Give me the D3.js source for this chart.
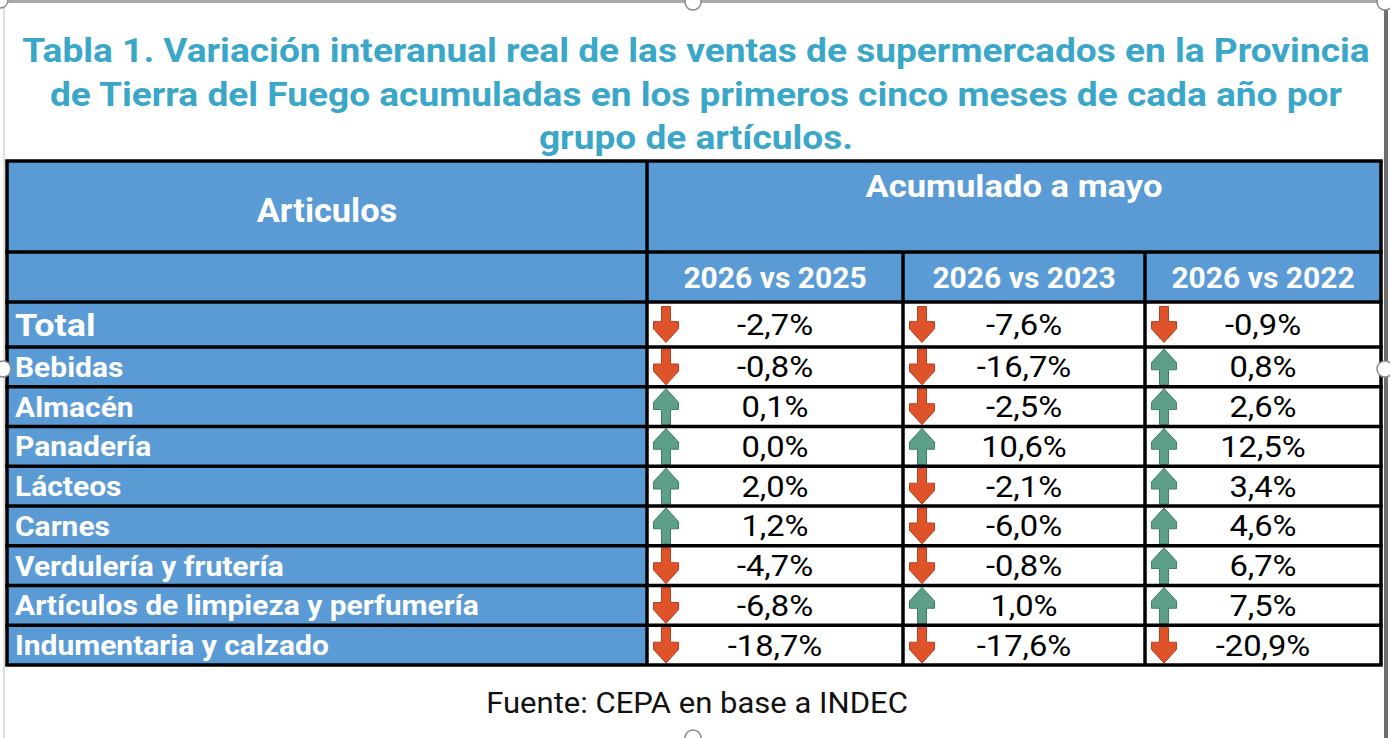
<!DOCTYPE html>
<html>
<head>
<meta charset="utf-8">
<script src="https://cdn.jsdelivr.net/npm/d3@7"></script>
<style>
  html, body { margin: 0; padding: 0; background: #fff; }
  svg { display: block; }
  text { font-family: Roboto, "Open Sans", sans-serif; }
</style>
</head>
<body>
<svg id="chart" width="1390" height="738"></svg>
<script>
// ---------------- DATA ----------------
const titleLines = [
  "Tabla 1. Variación interanual real de las ventas de supermercados en la Provincia",
  "de Tierra del Fuego acumuladas en los primeros cinco meses de cada año por",
  "grupo de artículos."
];
const headerMain = "Articulos";
const headerGroup = "Acumulado a mayo";
const periods = ["2026 vs 2025", "2026 vs 2023", "2026 vs 2022"];
const categories = [
  "Total", "Bebidas", "Almacén", "Panadería", "Lácteos", "Carnes",
  "Verdulería y frutería", "Artículos de limpieza y perfumería", "Indumentaria y calzado"
];
const vs2025 = [-2.7, -0.8, 0.1, 0.0, 2.0, 1.2, -4.7, -6.8, -18.7];
const vs2023 = [-7.6, -16.7, -2.5, 10.6, -2.1, -6.0, -0.8, 1.0, -17.6];
const vs2022 = [-0.9, 0.8, 2.6, 12.5, 3.4, 4.6, 6.7, 7.5, -20.9];
const sourceText = "Fuente: CEPA en base a INDEC";

// ---------------- LAYOUT ----------------
const svg = d3.select("#chart");
const W = 1390, H = 738;
const blue = "#5B9BD5";
const titleColor = "#3AA7C9";
const red = "#DF532B", redDark = "#B9401D";
const green = "#5E9F88", greenDark = "#3E7D68";

const tableLeft = 7, tableRight = 1381, tableTop = 161;
const hdr1Bottom = 252, hdr2Bottom = 302, totalBottom = 347, tableBottom = 665;
const colEdges = [tableLeft, 647, 903, 1145, tableRight];

// scales
const colX = d3.scaleOrdinal().domain(["label"].concat(periods)).range(colEdges.slice(0, 4));
const colW = d3.scaleOrdinal().domain(["label"].concat(periods))
  .range(colEdges.slice(1).map((e, i) => e - colEdges[i]));
const rowBand = d3.scaleBand().domain(categories.slice(1)).range([totalBottom, tableBottom]).padding(0);
const rowY = c => c === categories[0] ? hdr2Bottom : rowBand(c);
const rowH = c => c === categories[0] ? totalBottom - hdr2Bottom : rowBand.bandwidth();
const fmt = v => d3.format(".1f")(v).replace("\u2212", "-").replace(".", ",") + "%";

function stretch(sel, k) {
  sel.each(function () {
    const n = this.getComputedTextLength();
    d3.select(this).attr("textLength", n * k).attr("lengthAdjust", "spacingAndGlyphs");
  });
}

// ---------------- FRAME DECORATION ----------------
const frame = svg.append("g");
frame.append("line").attr("x1", 0).attr("x2", W).attr("y1", 1.5).attr("y2", 1.5)
  .attr("stroke", "#a9a9a9").attr("stroke-width", 3);
frame.append("line").attr("x1", 4).attr("x2", 4).attr("y1", 0).attr("y2", H)
  .attr("stroke", "#d4d4d4").attr("stroke-width", 1.5);
frame.append("line").attr("x1", 1386).attr("x2", 1386).attr("y1", 0).attr("y2", H)
  .attr("stroke", "#6e6e6e").attr("stroke-width", 4);

// ---------------- TITLE ----------------
const titleBase = [62, 106, 149];
svg.append("g").selectAll("text").data(titleLines).join("text")
  .attr("x", 696).attr("y", (d, i) => titleBase[i])
  .attr("text-anchor", "middle")
  .attr("font-size", 34).attr("font-weight", 700)
  .attr("fill", titleColor)
  .text(d => d)
  .call(stretch, 1.09);

// ---------------- TABLE ----------------
const tbl = svg.append("g");

// header fills
tbl.append("rect").attr("x", tableLeft).attr("y", tableTop)
  .attr("width", tableRight - tableLeft).attr("height", hdr2Bottom - tableTop).attr("fill", blue);
// label column fill
tbl.append("rect").attr("x", tableLeft).attr("y", hdr2Bottom)
  .attr("width", colW("label")).attr("height", tableBottom - hdr2Bottom).attr("fill", blue);

// header texts
tbl.append("text").attr("x", (tableLeft + colEdges[1]) / 2).attr("y", 222)
  .attr("text-anchor", "middle").attr("font-size", 33).attr("font-weight", 700)
  .attr("fill", "#fff").text(headerMain).call(stretch, 1.04);
tbl.append("text").attr("x", (colEdges[1] + tableRight) / 2).attr("y", 197)
  .attr("text-anchor", "middle").attr("font-size", 32).attr("font-weight", 700)
  .attr("fill", "#fff").text(headerGroup).call(stretch, 1.08);
tbl.append("g").selectAll("text").data(periods).join("text")
  .attr("x", d => colX(d) + colW(d) / 2).attr("y", 288)
  .attr("text-anchor", "middle").attr("font-size", 30).attr("font-weight", 700)
  .attr("fill", "#fff").text(d => d).call(stretch, 1.0);

// row labels
tbl.append("g").selectAll("text").data(categories).join("text")
  .attr("x", 15)
  .attr("y", d => rowY(d) + rowH(d) / 2 + (d === categories[0] ? 11 : 10))
  .attr("font-size", d => d === categories[0] ? 31 : 28)
  .attr("font-weight", 700).attr("fill", "#fff")
  .text(d => d)
  .each(function (d) { d3.select(this).call(stretch, d === categories[0] ? 1.16 : 1.07); });

// values + arrows
const series = [vs2025, vs2023, vs2022];
const cells = [];
series.forEach((vals, j) => vals.forEach((v, i) => cells.push({ period: periods[j], cat: categories[i], v })));

function arrowPath(up, h, w) {
  const sh = w * 0.18, hw = w / 2;
  const a = h * 0.42, b = h * 0.62;
  const pts = [[-sh, 0], [sh, 0], [sh, a], [hw, a], [hw, b], [0, h], [-hw, b], [-hw, a], [-sh, a]];
  const p = up ? pts.map(([x, y]) => [x, h - y]) : pts;
  return "M" + p.map(q => q.join(",")).join("L") + "Z";
}

const cellG = tbl.append("g").selectAll("g").data(cells).join("g");
cellG.append("path")
  .attr("transform", d => `translate(${colX(d.period) + 19},${rowY(d.cat) + rowH(d.cat) / 2 - 18})`)
  .attr("d", d => arrowPath(d.v >= 0, 36, 25))
  .attr("fill", d => d.v >= 0 ? green : red)
  .attr("stroke", d => d.v >= 0 ? greenDark : redDark).attr("stroke-width", 1);
cellG.append("text")
  .attr("x", d => colX(d.period) + colW(d.period) / 2)
  .attr("y", d => rowY(d.cat) + rowH(d.cat) / 2 + 10.5)
  .attr("text-anchor", "middle").attr("font-size", 30).attr("font-weight", 400)
  .attr("fill", "#000")
  .text(d => fmt(d.v)).call(stretch, 1.09);

// grid lines
const hLines = [tableTop, hdr1Bottom, hdr2Bottom].concat(categories.slice(1).map(c => rowBand(c)), [tableBottom]);
tbl.append("g").selectAll("line").data(hLines).join("line")
  .attr("x1", tableLeft).attr("x2", tableRight)
  .attr("y1", d => d).attr("y2", d => d)
  .attr("stroke", "#000").attr("stroke-width", 3.5).attr("stroke-linecap", "square");
tbl.append("line").attr("x1", tableLeft).attr("x2", tableLeft).attr("y1", tableTop).attr("y2", tableBottom)
  .attr("stroke", "#000").attr("stroke-width", 3.5);
tbl.append("line").attr("x1", tableRight).attr("x2", tableRight).attr("y1", tableTop).attr("y2", tableBottom)
  .attr("stroke", "#000").attr("stroke-width", 3.5);
tbl.append("line").attr("x1", colEdges[1]).attr("x2", colEdges[1]).attr("y1", tableTop).attr("y2", tableBottom)
  .attr("stroke", "#000").attr("stroke-width", 3.5);
tbl.append("g").selectAll("line").data(colEdges.slice(2, 4)).join("line")
  .attr("x1", d => d).attr("x2", d => d).attr("y1", hdr1Bottom).attr("y2", tableBottom)
  .attr("stroke", "#000").attr("stroke-width", 3.5);

// ---------------- SOURCE ----------------
svg.append("text").attr("x", 697).attr("y", 713).attr("text-anchor", "middle")
  .attr("font-size", 29).attr("fill", "#111").text(sourceText).call(stretch, 1.07);

// ---------------- HANDLES ----------------
const handles = [[0, 0], [693, 2], [1385, 2], [1385, 369], [3, 369], [693, 738]];
frame.raise();
svg.append("g").selectAll("circle").data(handles).join("circle")
  .attr("cx", d => d[0]).attr("cy", d => d[1]).attr("r", 8)
  .attr("fill", "#fff").attr("stroke", "#8a8a8a").attr("stroke-width", 1.5);
</script>
</body>
</html>
